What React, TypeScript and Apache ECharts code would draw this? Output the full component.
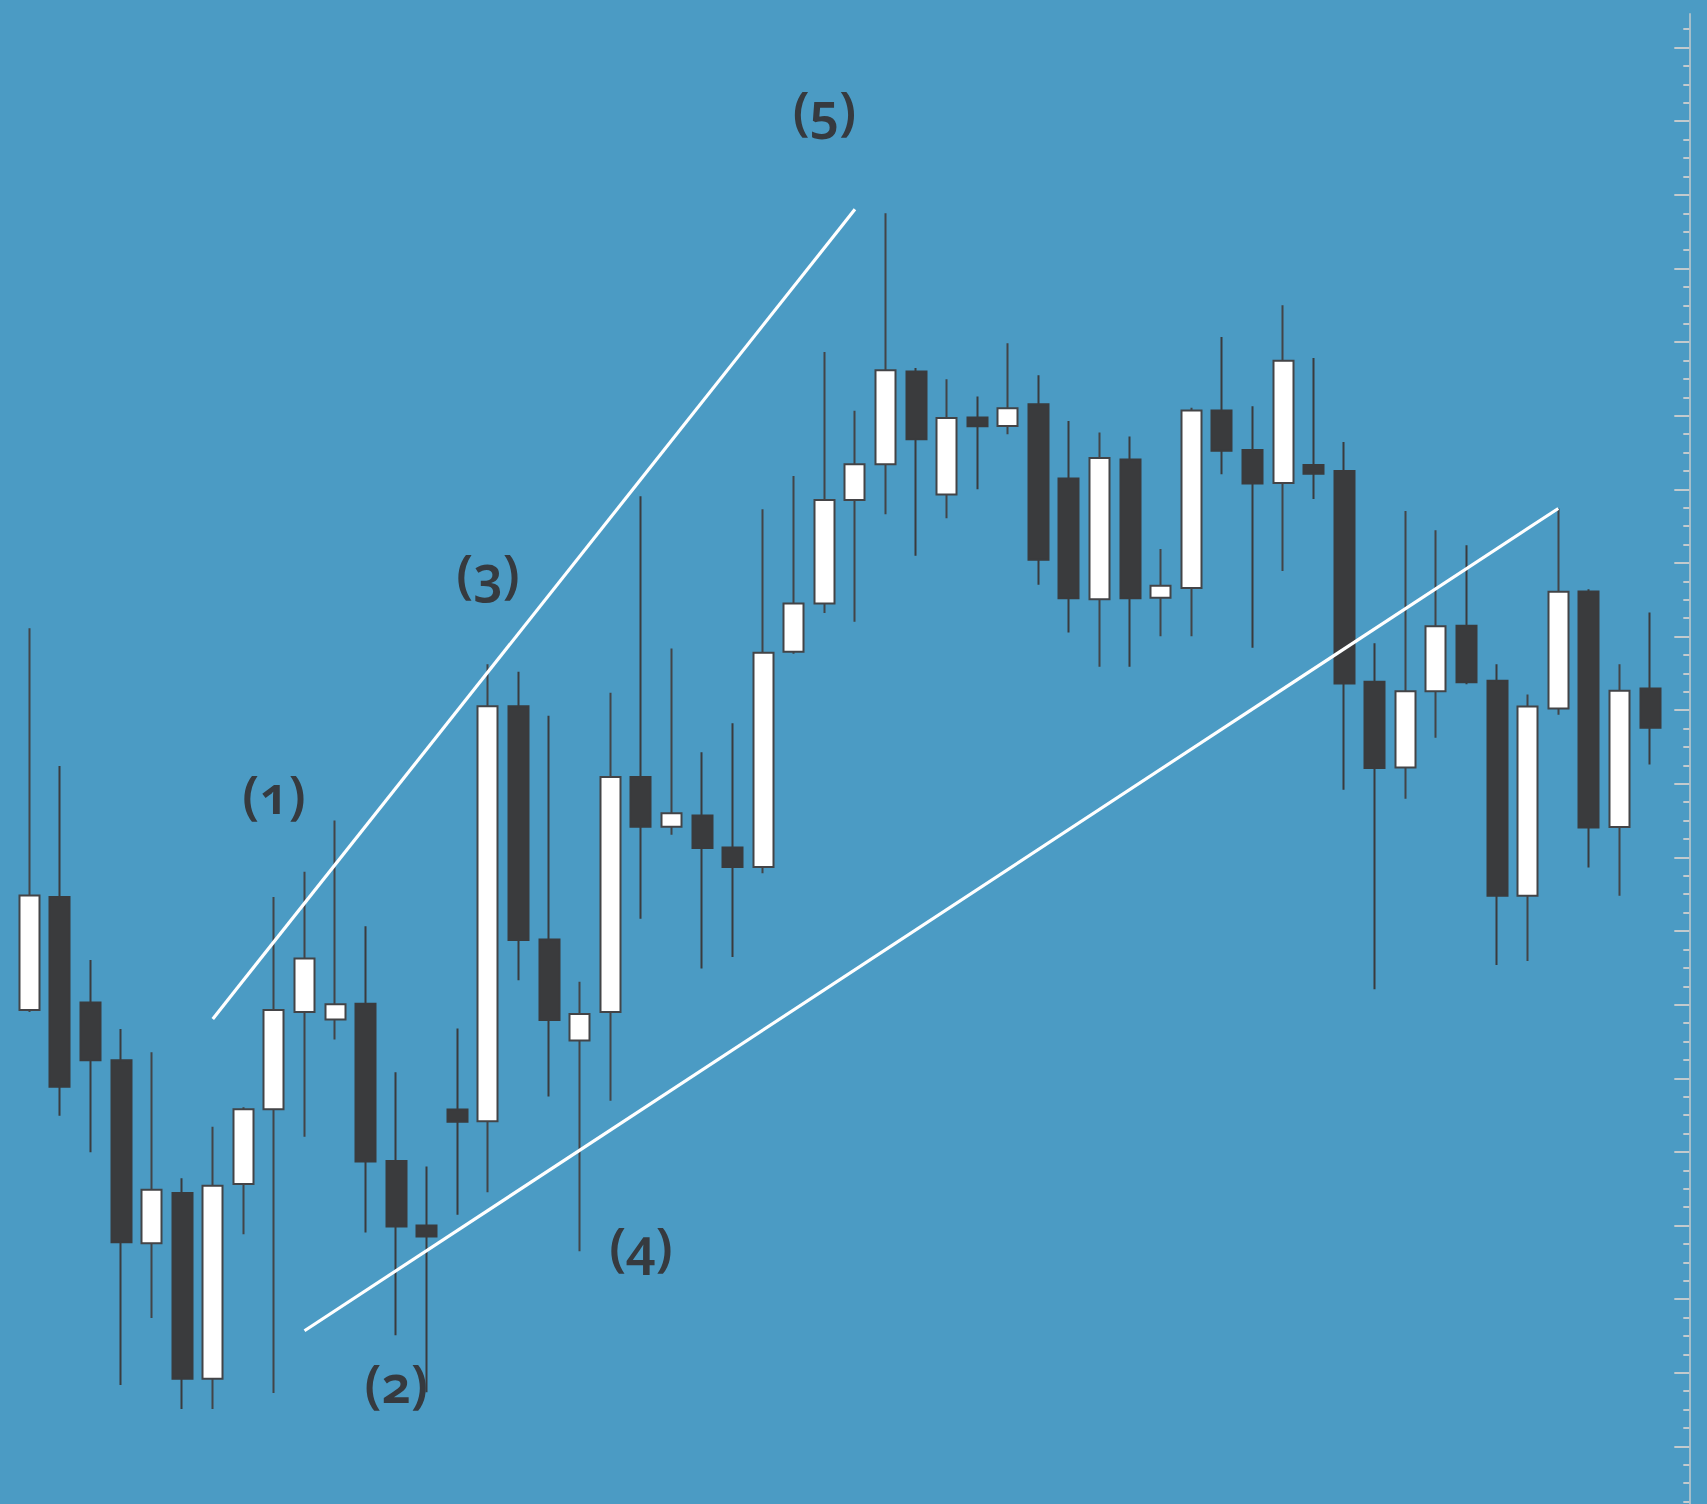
import { useEffect, useRef } from 'react';
import * as echarts from 'echarts';

// ---- data (price units) ----
const categories = Array.from({ length: 54 }, (_, i) => String(i + 1));

const opens = [
  510.2, 623.0, 517.6, 459.9, 276.7, 327.0, 141.2, 336.0, 410.7, 508.2,
  500.6, 516.3, 359.1, 294.6, 410.5, 398.9, 814.0, 580.7, 479.5, 508.1,
  743.2, 693.4, 704.6, 672.5, 653.2, 868.5, 916.7, 1020.1, 1056.0, 1148.7,
  1025.7, 1102.7, 1094.3, 1116.0, 1041.7, 921.0, 1060.7, 922.5, 932.1, 1109.8,
  1070.3, 1037.2, 1055.2, 1049.2, 838.4, 752.6, 828.8, 894.3, 839.3, 624.3,
  811.7, 928.7, 693.0, 831.7,
];
const closes = [
  624.5, 433.4, 459.9, 277.8, 330.2, 141.2, 334.4, 410.7, 510.2, 561.6,
  515.8, 358.6, 293.6, 283.5, 398.4, 814.0, 580.2, 500.1, 506.2, 743.2,
  693.4, 706.8, 672.0, 653.2, 867.5, 916.7, 1020.1, 1056.0, 1150.0, 1081.0,
  1102.3, 1094.0, 1112.0, 960.3, 922.0, 1062.3, 922.0, 934.4, 1109.8, 1069.4,
  1036.8, 1159.4, 1046.4, 836.6, 752.1, 828.8, 894.0, 838.0, 624.3, 813.7,
  928.3, 692.7, 829.3, 792.3,
];
const lows = [
  508.1, 404.3, 367.8, 134.9, 202.1, 111.0, 111.0, 285.7, 126.9, 383.3,
  480.5, 287.6, 184.8, 127.8, 305.2, 327.9, 539.9, 423.6, 268.9, 419.2,
  601.3, 685.4, 551.5, 563.2, 646.8, 866.4, 907.1, 898.5, 1006.0, 964.3,
  1002.0, 1031.0, 1086.0, 935.3, 887.7, 853.3, 853.3, 883.9, 883.9, 1046.0,
  872.4, 949.1, 1021.2, 730.5, 530.8, 721.4, 782.4, 836.0, 555.0, 559.0,
  805.3, 652.7, 624.3, 755.7,
];
const highs = [
  891.9, 754.2, 560.0, 491.1, 467.8, 341.9, 393.2, 412.8, 623.0, 648.3,
  699.6, 593.8, 447.8, 353.5, 491.6, 855.8, 848.3, 804.4, 538.4, 827.3,
  1023.9, 871.7, 767.8, 796.8, 1011.0, 1044.2, 1168.3, 1109.5, 1307.0, 1152.3,
  1141.0, 1123.7, 1177.0, 1145.0, 1099.3, 1087.7, 1083.7, 971.1, 1112.5, 1183.2,
  1113.9, 1214.9, 1162.1, 1078.1, 877.0, 1009.2, 990.0, 975.0, 856.0, 825.7,
  1011.7, 931.0, 856.0, 907.7,
];

// Elliott wave labels
const waveLabels = ['(1)', '(2)', '(3)', '(4)', '(5)'];
const waveLabelIndex = [8, 12, 15, 20, 26];
const waveLabelValue = [727, 138, 948, 275, 1411];

// Trend lines: [startIndex, startValue, endIndex, endValue]
const upperLine = [6, 501.2, 27, 1310.9];
const lowerLine = [9, 189.3, 50, 1011.7];

// value axis
const Y_INTERVAL = 73.632;
const Y_MIN = 0;
const Y_MAX = 21 * Y_INTERVAL;

const BG = '#4b9bc4';
const DARK = '#3a3b3d';
const AXIS = '#c3cacd';

// the chart canvas is taller than the window so that the axis ticks line up
const SHIFT = 25.63;
const CANVAS_H = 1546.26;

export default function App() {
  const ref = useRef<HTMLDivElement>(null);

  useEffect(() => {
    if (!ref.current) return;
    const chart = echarts.init(ref.current, null, { renderer: 'svg' });
    const data = categories.map((_, i) => [opens[i], closes[i], lows[i], highs[i]]);
    chart.setOption({
      animation: false,
      backgroundColor: BG,
      grid: { left: 14, right: 41.7, top: 0, bottom: 0 },
      xAxis: {
        type: 'category',
        data: categories,
        show: false,
        boundaryGap: true,
      },
      yAxis: {
        type: 'value',
        position: 'right',
        offset: 24,
        min: Y_MIN,
        max: Y_MAX,
        interval: Y_INTERVAL,
        axisLine: { show: true, lineStyle: { color: AXIS, width: 1.5 } },
        axisTick: { show: true, inside: true, length: 15, lineStyle: { color: AXIS, width: 2 } },
        minorTick: { show: true, splitNumber: 4, length: 6, lineStyle: { color: AXIS, width: 2 } },
        axisLabel: { show: false },
        splitLine: { show: false },
        minorSplitLine: { show: false },
      },
      series: [
        {
          type: 'candlestick',
          data,
          barWidth: 20.5,
          itemStyle: {
            color: '#ffffff',
            color0: DARK,
            borderColor: '#434447',
            borderColor0: DARK,
            borderWidth: 2,
          },
          markLine: {
            silent: true,
            symbol: ['none', 'none'],
            label: { show: false },
            lineStyle: { color: '#ffffff', width: 3.2, type: 'solid', opacity: 1 },
            emphasis: { disabled: true },
            data: [
              [
                { coord: [categories[upperLine[0]], upperLine[1]] },
                { coord: [categories[upperLine[2]], upperLine[3]] },
              ],
              [
                { coord: [categories[lowerLine[0]], lowerLine[1]] },
                { coord: [categories[lowerLine[2]], lowerLine[3]] },
              ],
            ],
          },
          markPoint: {
            silent: true,
            symbol: 'circle',
            symbolSize: 1,
            itemStyle: { color: 'rgba(0,0,0,0)' },
            label: {
              show: true,
              position: 'inside',
              formatter: '{b}',
              color: '#363a3f',
              fontSize: 52,
              fontWeight: 600,
              fontFamily: "'Noto Sans', 'Open Sans', sans-serif",
            },
            data: waveLabels.map((name, i) => ({
              name,
              coord: [categories[waveLabelIndex[i]], waveLabelValue[i]],
            })),
          },
        },
      ],
      graphic: [
        {
          type: 'rect',
          z: 100,
          shape: { x: 1672, y: 0, width: 35, height: SHIFT + 13.5 },
          style: { fill: BG },
          silent: true,
        },
      ],
    });
    return () => chart.dispose();
  }, []);

  return (
    <>
      <style>{`#chart text { font-variant-numeric: oldstyle-nums !important; font-feature-settings: "onum" 1 !important; }`}</style>
      <div
        id="chart"
        ref={ref}
        style={{
          position: 'fixed',
          left: 0,
          top: -SHIFT,
          width: 1707,
          height: CANVAS_H,
          background: BG,
        }}
      />
    </>
  );
}
